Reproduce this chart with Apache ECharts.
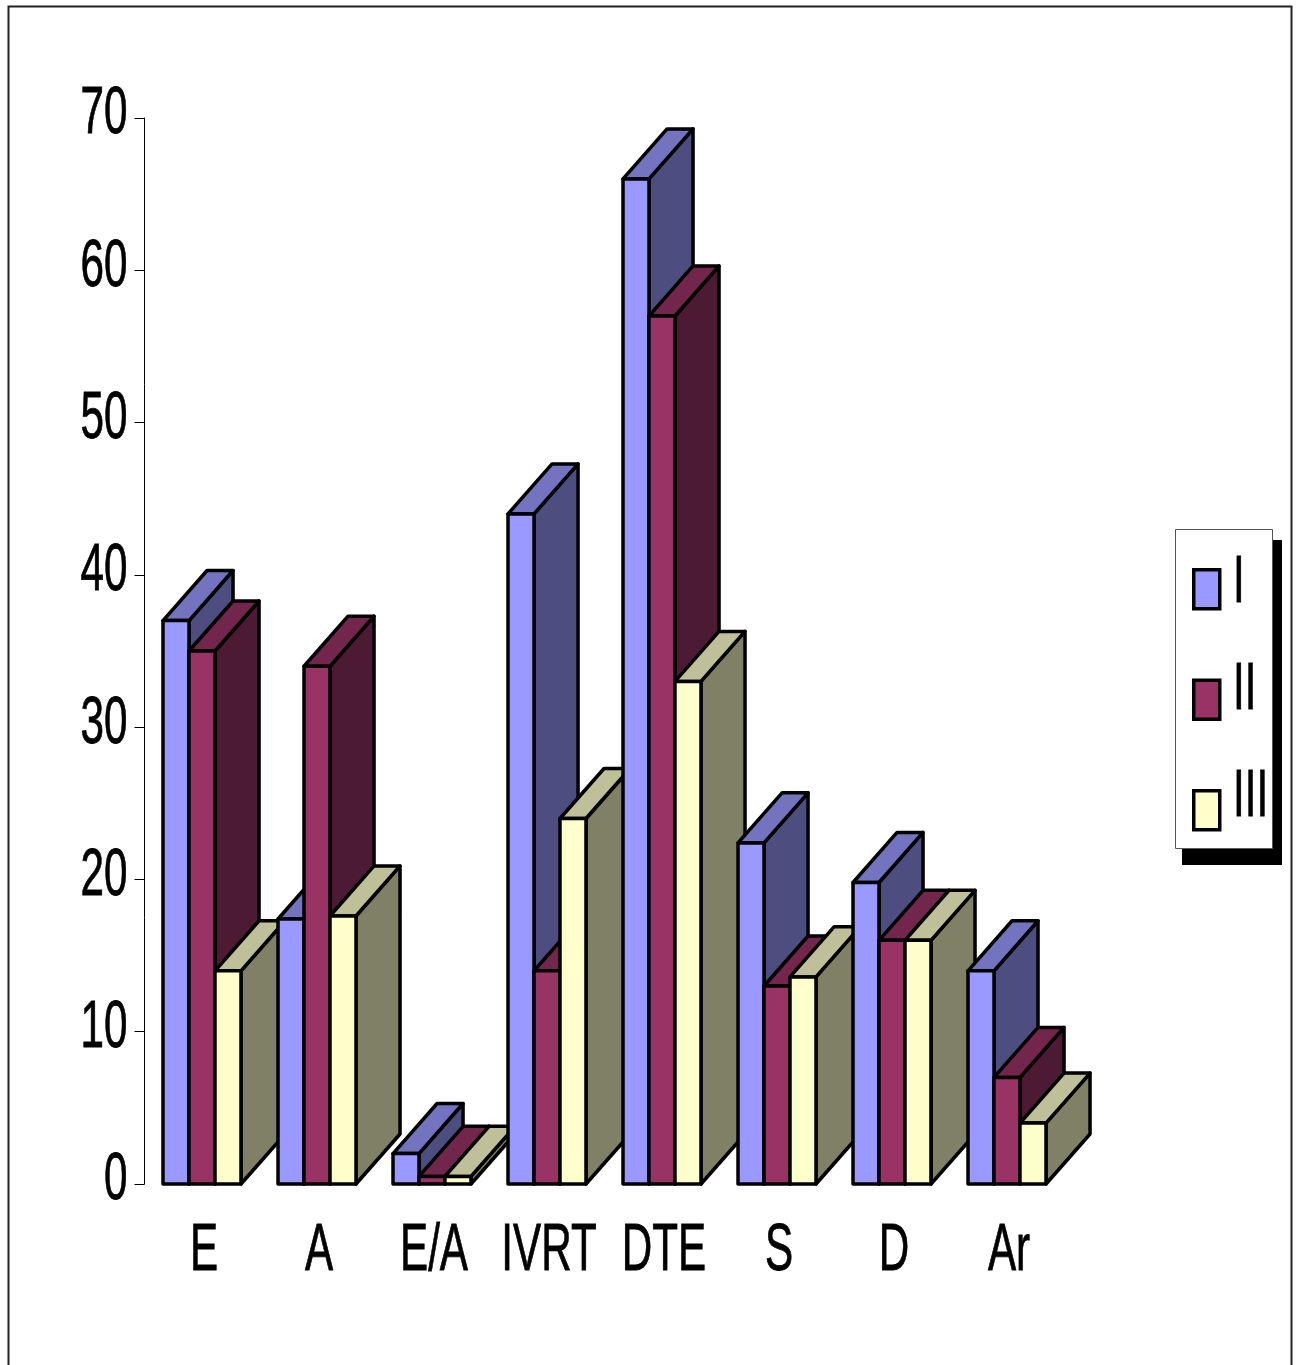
<!DOCTYPE html>
<html>
<head>
<meta charset="utf-8">
<title>3D clustered columns</title>
<script src="https://cdn.jsdelivr.net/npm/echarts@6/dist/echarts.min.js"></script>
<style>
  html, body { margin: 0; padding: 0; background: #fff; }
  #chart { width: 1299px; height: 1365px; }
</style>
</head>
<body>
<div id="chart"></div>
<script>
// Categories along the horizontal axis
const categories = ['E', 'A', 'E/A', 'IVRT', 'DTE', 'S', 'D', 'Ar'];

// Group values, one array per series
const seriesNames = ['I', 'II', 'III'];
const valuesI   = [37, 17.4, 2, 44, 66, 22.4, 19.8, 14];
const valuesII  = [35, 34, 0.5, 14, 57, 13, 16, 7];
const valuesIII = [14, 17.6, 0.5, 24, 33, 13.6, 16, 4];

// Value-axis ticks
const yTicks = [0, 10, 20, 30, 40, 50, 60, 70];

// Face colours: front, top, side
const palette = [
  { front: '#9999FF', top: '#7373BF', side: '#4D4D80' },
  { front: '#993366', top: '#73264C', side: '#4D1A33' },
  { front: '#FFFFCC', top: '#BFBF99', side: '#808066' }
];

// Tall condensed lettering: a regular sans squeezed horizontally
const FONT = "'Liberation Sans', Arial, sans-serif";
const FONT_SIZE = 67;
const SQUEEZE = 0.63;

function makeRender(sIdx) {
  const col = palette[sIdx];
  return function (params, api) {
    const ci = api.value(0);
    const v = api.value(1);
    const top = api.coord([ci, v]);
    const base = api.coord([ci, 0]);
    const band = api.size([1, 0])[0];
    const w = band * 0.226;
    const dx = band * 0.383;
    const dy = -band * 0.435;
    const x0 = top[0] - 1.5 * w + sIdx * w;
    const x1 = x0 + w;
    const yt = top[1];
    const yb = base[1];
    const order = (ci * 3 + sIdx) * 3;
    const edge = { stroke: '#000', lineWidth: 3.5, lineJoin: 'round' };
    return {
      type: 'group',
      children: [
        {
          type: 'polygon', z2: order,
          shape: { points: [[x1, yt], [x1 + dx, yt + dy], [x1 + dx, yb + dy], [x1, yb]] },
          style: Object.assign({ fill: col.side }, edge)
        },
        {
          type: 'polygon', z2: order + 1,
          shape: { points: [[x0, yt], [x0 + dx, yt + dy], [x1 + dx, yt + dy], [x1, yt]] },
          style: Object.assign({ fill: col.top }, edge)
        },
        {
          type: 'rect', z2: order + 2,
          shape: { x: x0, y: yt, width: w, height: yb - yt },
          style: Object.assign({ fill: col.front }, edge)
        }
      ]
    };
  };
}

const allValues = [valuesI, valuesII, valuesIII];

const chart = echarts.init(document.getElementById('chart'), null, { renderer: 'canvas' });

chart.setOption({
  animation: false,
  backgroundColor: '#fff',
  grid: { left: 144.5, right: 234.5, top: 118, bottom: 181, containLabel: false },
  xAxis: {
    type: 'category',
    data: categories,
    boundaryGap: true,
    axisLine: { show: false },
    axisTick: { show: false },
    axisLabel: { show: false }
  },
  yAxis: {
    type: 'value',
    min: yTicks[0],
    max: yTicks[yTicks.length - 1],
    interval: yTicks[1] - yTicks[0],
    axisLine: { show: true, lineStyle: { color: '#000', width: 1 } },
    axisTick: { show: true, length: 10, lineStyle: { color: '#000', width: 1 } },
    splitLine: { show: false },
    axisLabel: { show: false }
  },
  legend: {
    orient: 'vertical',
    left: 1192,
    top: 568,
    padding: 0,
    itemWidth: 26,
    itemHeight: 39,
    itemGap: 68,
    icon: 'rect',
    formatter: function () { return ''; },
    textStyle: { fontSize: 1 },
    data: seriesNames.map((n, i) => ({
      name: n,
      itemStyle: { color: palette[i].front, borderColor: '#000', borderWidth: 3.5 }
    }))
  },
  graphic: [
    // outer frame
    { type: 'rect', id: 'frame', z: -10, shape: { x: 8.5, y: 6.5, width: 1283, height: 1380 },
      style: { fill: 'none', stroke: '#222', lineWidth: 2 } },
    // legend drop shadow and box
    { type: 'rect', id: 'legendShadow', z: -5, shape: { x: 1182, y: 540, width: 100, height: 325 },
      style: { fill: '#000' } },
    { type: 'rect', id: 'legendBox', z: -4, shape: { x: 1175.5, y: 529.5, width: 97, height: 319 },
      style: { fill: '#fff', stroke: '#555', lineWidth: 1 } }
  ],
  series: seriesNames.map((name, sIdx) => ({
    name: name,
    type: 'custom',
    itemStyle: { color: palette[sIdx].front },
    renderItem: makeRender(sIdx),
    encode: { x: 0, y: 1 },
    data: allValues[sIdx].map((v, i) => [i, v])
  }))
});

function labelStyle(text, align) {
  return {
    text: text,
    fill: '#000',
    stroke: '#000',
    lineWidth: 0.8,
    fontFamily: FONT,
    fontSize: FONT_SIZE,
    align: align,
    textAlign: align,
    verticalAlign: 'middle',
    textVerticalAlign: 'middle'
  };
}

// Axis and legend lettering placed through the chart's own scales
function drawLabels() {
  const els = [];
  yTicks.forEach((t, i) => {
    const y = chart.convertToPixel({ yAxisIndex: 0 }, t);
    els.push({
      type: 'text', id: 'ytick' + i, x: 127.5, y: y - 3, scaleX: SQUEEZE, z: 5,
      style: labelStyle(String(t), 'right')
    });
  });
  const baseY = chart.convertToPixel({ yAxisIndex: 0 }, 0);
  categories.forEach((c, i) => {
    const x = chart.convertToPixel({ xAxisIndex: 0 }, c);
    els.push({
      type: 'text', id: 'cat' + i, x: x + 2, y: baseY + 68, scaleX: SQUEEZE, z: 5,
      style: labelStyle(c, 'center')
    });
  });
  const legendCenters = [584, 691, 798];
  seriesNames.forEach((n, i) => {
    els.push({
      type: 'text', id: 'leg' + i, x: 1233, y: legendCenters[i], scaleX: SQUEEZE, z: 5,
      style: labelStyle(n, 'left')
    });
  });
  chart.setOption({ graphic: els });
}
drawLabels();
</script>
</body>
</html>
